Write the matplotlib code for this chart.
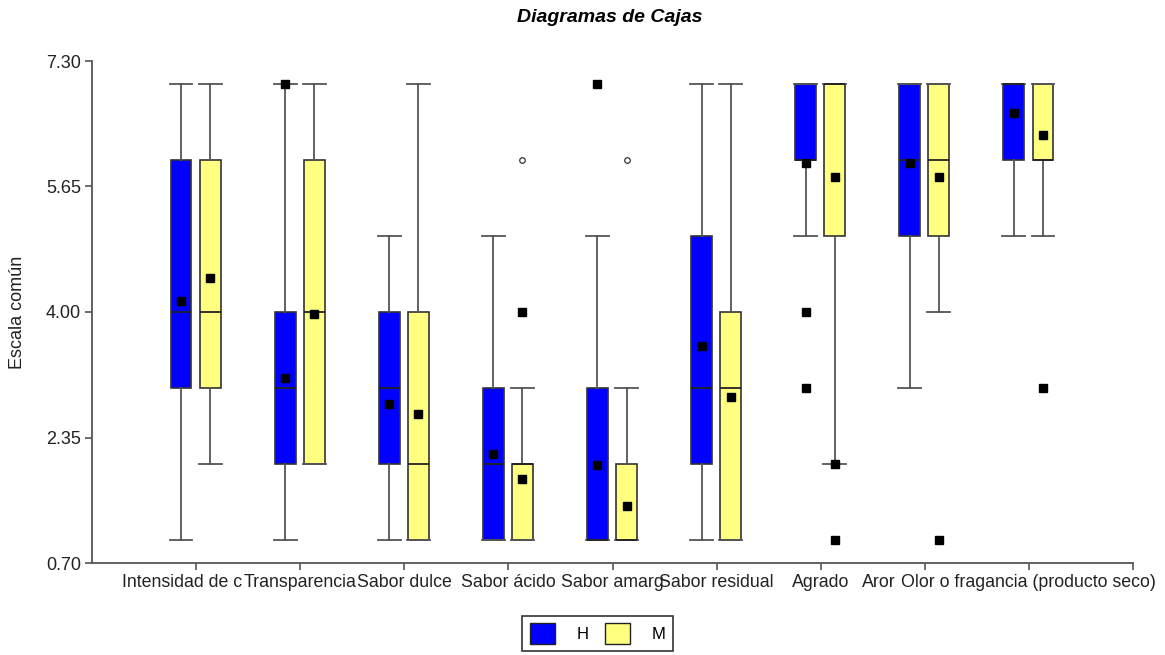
import numpy as np
import matplotlib.pyplot as plt
from matplotlib.patches import Patch

plt.rcParams['font.family'] = ['Liberation Sans', 'DejaVu Sans']

# categories as printed (labels are cut off in the original)
categories = ['Intensidad de c', 'Transparencia', 'Sabor dulce', 'Sabor ácido',
              'Sabor amarg', 'Sabor residual', 'Agrado', 'Aror',
              'Olor o fragancia (producto seco)']

# group H
h_q1 = [3, 2, 2, 1, 1, 2, 6, 5, 6]
h_med = [4, 3, 3, 2, 1, 3, 6, 6, 7]
h_q3 = [6, 4, 4, 3, 3, 5, 7, 7, 7]
h_lo = [1, 1, 1, 1, 1, 1, 5, 3, 5]
h_hi = [7, 7, 5, 5, 5, 7, 7, 7, 7]
h_mean = [4.14, 3.13, 2.79, 2.13, 1.99, 3.55, 5.96, 5.96, 6.62]
h_out = [[], [7], [], [], [7], [], [4, 3], [], []]
h_far = [[], [], [], [], [], [], [], [], []]

# group M
m_q1 = [3, 2, 1, 1, 1, 1, 5, 5, 6]
m_med = [4, 4, 2, 2, 1, 3, 7, 6, 6]
m_q3 = [6, 6, 4, 2, 2, 4, 7, 7, 7]
m_lo = [2, 2, 1, 1, 1, 1, 2, 4, 5]
m_hi = [7, 7, 7, 3, 3, 7, 7, 7, 7]
m_mean = [4.45, 3.97, 2.66, 1.80, 1.45, 2.88, 5.78, 5.78, 6.33]
m_out = [[], [], [], [4], [], [], [2, 1], [1], [3]]
m_far = [[], [], [], [6], [6], [], [], [], []]

yticks = [0.70, 2.35, 4.00, 5.65, 7.30]


def make_stats(q1, med, q3, lo, hi, mean, out):
    return [dict(q1=a, med=b, q3=c, whislo=d, whishi=e, mean=f, fliers=np.array(g))
            for a, b, c, d, e, f, g in zip(q1, med, q3, lo, hi, mean, out)]


fig = plt.figure(figsize=(11.65, 6.55), dpi=100)
ax = fig.add_axes([92 / 1165, 92 / 655, (1133 - 92) / 1165, (563 - 61) / 655])

pos = np.arange(1, len(categories) + 1)
groups = [('H', '#0000FF', -0.145, h_q1, h_med, h_q3, h_lo, h_hi, h_mean, h_out, h_far),
          ('M', '#FFFF80', 0.135, m_q1, m_med, m_q3, m_lo, m_hi, m_mean, m_out, m_far)]

for name, col, off, q1, med, q3, lo, hi, mean, out, far in groups:
    stats = make_stats(q1, med, q3, lo, hi, mean, out)
    bp = ax.bxp(stats, positions=pos + off, widths=0.2, patch_artist=True,
                showmeans=True, capwidths=0.22,
                boxprops=dict(facecolor=col, edgecolor='#333333', linewidth=1.2),
                whiskerprops=dict(color='#555555', linewidth=1.3),
                capprops=dict(color='#555555', linewidth=1.3),
                medianprops=dict(color='#222222', linewidth=1.3),
                meanprops=dict(marker='s', markerfacecolor='black', markeredgecolor='black',
                               markersize=5.5),
                flierprops=dict(marker='s', markerfacecolor='black', markeredgecolor='black',
                                markersize=5.5),
                manage_ticks=False)
    for i, pts in enumerate(far):
        if pts:
            ax.plot([pos[i] + off] * len(pts), pts, 'o', markerfacecolor='white',
                    markeredgecolor='#333333', markersize=4, markeredgewidth=0.9)

ax.set_xlim(0, 10)
ax.set_ylim(0.70, 7.30)
ax.set_yticks(yticks)
ax.set_yticklabels(['%.2f' % v for v in yticks], fontsize=13, color='#222222')
ax.set_xticks(list(pos) + [10])
ax.set_xticklabels([])
ax.tick_params(axis='both', direction='out', length=5, width=1.2, color='#555555')
ax.tick_params(axis='y', pad=3)

for s in ['top', 'right']:
    ax.spines[s].set_visible(False)
for s in ['left', 'bottom']:
    ax.spines[s].set_color('#555555')
    ax.spines[s].set_linewidth(1.3)

# category labels (some shifted like in the original)
shifts = [-10, 0, 0, 0, 0, 0, 0, -33, 0]
for p, lab, sh in zip(pos, categories, shifts):
    ax.annotate(lab, xy=(p, 0), xycoords=('data', 'axes fraction'),
                xytext=(sh, -8), textcoords='offset points',
                ha='center', va='top', fontsize=12.8, color='#222222')

ax.set_ylabel('Escala común', fontsize=13, color='#222222', labelpad=14)

fig.text(610 / 1165, 1 - 18 / 655, 'Diagramas de Cajas', ha='center', va='center',
         fontsize=14, fontweight='bold', fontstyle='italic')

handles = [Patch(facecolor='#0000FF', edgecolor='#222222'),
           Patch(facecolor='#FFFF80', edgecolor='#222222')]
leg = fig.legend(handles, ['H', 'M'], ncol=2, loc='upper left',
                 bbox_to_anchor=(522 / 1165, 1 - 616 / 655), borderaxespad=0,
                 fontsize=12, frameon=True, fancybox=False, edgecolor='black',
                 handlelength=1.5, handleheight=1.5, handletextpad=1.3,
                 columnspacing=1.0, borderpad=0.45)
leg.get_frame().set_linewidth(1.2)

fig.savefig('out.png', dpi=100)
